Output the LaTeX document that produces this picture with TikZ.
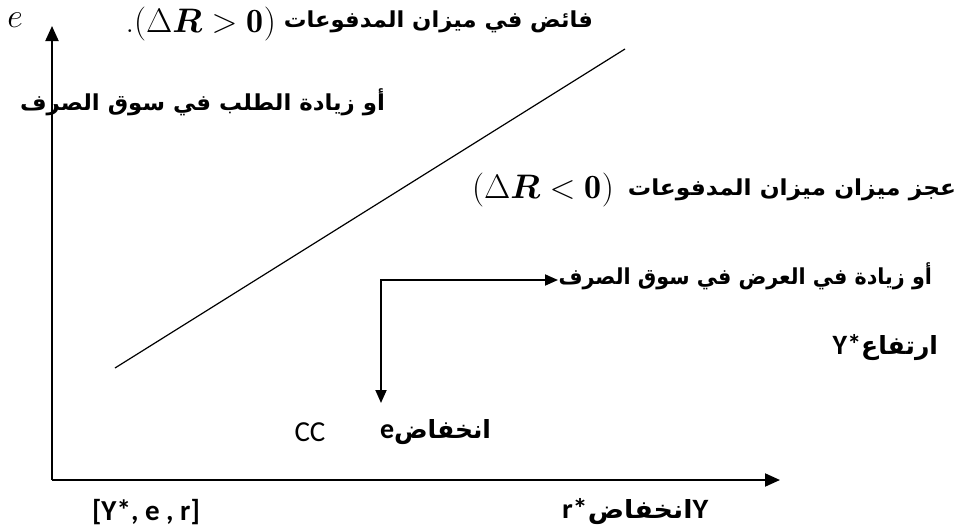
\RequirePackage{fix-cm}
\documentclass[tikz,border=0pt]{standalone}
\usepackage{graphicx}
\usepackage{fontspec}
\usepackage{amsmath,bm}
\usetikzlibrary{arrows.meta}
\TeXXeTstate=1
\newfontfamily\arabicfont[Script=Arabic]{DejaVu Sans}
\newfontfamily\latinsans{Carlito}
\newcommand{\lat}[1]{{\latinsans\bfseries\fontsize{28}{30}\selectfont #1}}
\begin{document}
\begin{tikzpicture}[x=1pt,y=-1pt,
  axisline/.style={line width=2pt,-{Triangle[length=15pt,width=13pt]}},
  curveline/.style={line width=1.2pt},
  elbowline/.style={line width=1.8pt,{Triangle[length=13pt,width=11pt]}-{Triangle[length=13pt,width=11pt]}},
  lbl/.style={inner sep=0pt,outer sep=0pt},
  arsize/.style={font=\arabicfont\bfseries\fontsize{22}{25}\selectfont},
  arbig/.style={font=\arabicfont\bfseries\fontsize{25}{28}\selectfont},
  mathsize/.style={font=\fontsize{34}{38}\selectfont},
  latsize/.style={font=\latinsans\fontsize{29}{32}\selectfont}]
\useasboundingbox (0,0) rectangle (962,530);
% axes
\coordinate (O) at (52,480);
\coordinate (ytop) at (52,26);
\coordinate (xend) at (780,480);
\draw[axisline] (O) -- (ytop);
\draw[axisline] (O) -- (xend);
% CC line
\coordinate (cc1) at (115,368);
\coordinate (cc2) at (625,49);
\draw[curveline] (cc1) -- (cc2);
% elbow arrow
\coordinate (tipR) at (558,280);
\coordinate (corner) at (381,280);
\coordinate (tipD) at (381,403);
\draw[elbowline] (tipR) -- (corner) -- (tipD);
% labels
\node[lbl,font=\fontsize{34}{36}\selectfont] (ylab) at (15,20) {$e$};
\node[lbl,mathsize,anchor=east] (m1) at (276,24) {.$(\Delta\bm{R} > \mathbf{0})$};
\node[lbl,arsize,anchor=east] (t1) at (593,22) {\scalebox{1.03}[1]{\beginR فائض في ميزان المدفوعات\endR}};
\node[lbl,arsize,anchor=east] (t2) at (385,102) {\scalebox{1.04}[1]{\beginR أو زيادة الطلب في سوق الصرف\endR}};
\node[lbl,mathsize,anchor=east] (m3) at (614,190) {$(\Delta\bm{R} < \mathbf{0})$};
\node[lbl,arsize,anchor=east] (t3) at (956,190) {\scalebox{1.06}[1]{\beginR عجز ميزان ميزان المدفوعات\endR}};
\node[lbl,arsize,anchor=east] (t4) at (932,276) {\scalebox{0.94}[1]{\beginR أو زيادة في العرض في سوق الصرف\endR}};
\node[lbl,arbig,anchor=east] (t5) at (938,348) {\lat{Y*}\beginR ارتفاع\endR};
\node[lbl,latsize] (cc) at (310,432) {CC};
\node[lbl,arbig,anchor=west] (t6) at (380,432) {\lat{e}\beginR انخفاض\endR};
\node[lbl,latsize] (vars) at (146,512) {\bfseries [Y*, e , r]};
\node[lbl,arbig,anchor=west] (t7) at (562,512) {\scalebox{1.08}[1]{\lat{r*}\beginR انخفاض\endR\lat{Y}}};
\end{tikzpicture}
\end{document}
